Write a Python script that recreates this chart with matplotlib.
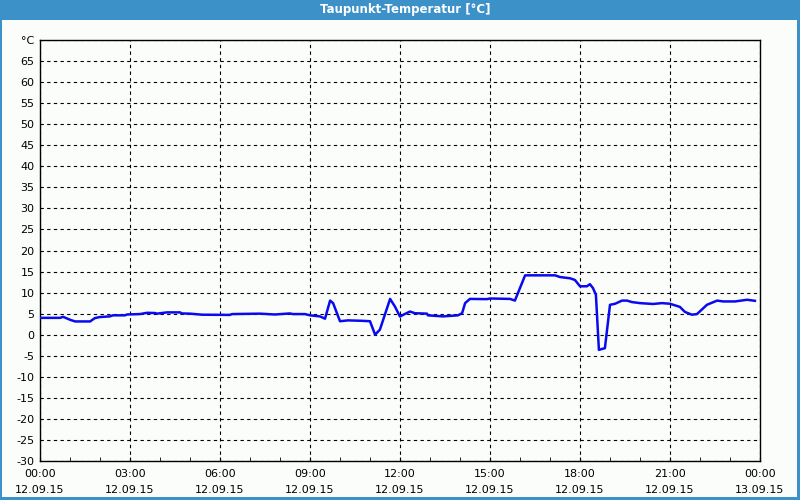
import matplotlib.pyplot as plt
import matplotlib.patches as mpatches
import numpy as np

# hours since 12.09.15 00:00, dew point in °C
hours = [0.0, 0.67, 0.77, 1.0, 1.17, 1.67, 1.83, 2.0, 2.33, 2.43, 2.83, 2.9,
         3.33, 3.57, 3.83, 3.9, 4.23, 4.67, 4.73, 5.0, 5.4, 6.33, 6.4, 7.33,
         7.83, 8.33, 8.43, 8.83, 9.0, 9.33, 9.5, 9.67, 9.77, 10.0, 10.27,
         10.73, 11.0, 11.17, 11.33, 11.67, 11.83, 12.0, 12.1, 12.33, 12.5,
         12.9, 12.93, 13.43, 13.93, 14.07, 14.17, 14.33, 14.9, 15.0, 15.67,
         15.83, 16.17, 17.17, 17.33, 17.67, 17.83, 18.0, 18.23, 18.33, 18.43,
         18.53, 18.63, 18.83, 19.0, 19.17, 19.4, 19.57, 19.73, 20.0, 20.43,
         20.73, 21.0, 21.33, 21.5, 21.73, 21.9, 22.23, 22.57, 22.77, 23.17,
         23.57, 23.83]
dewpoint = [4.0, 4.0, 4.25, 3.55, 3.15, 3.15, 3.95, 4.2, 4.35, 4.6, 4.6, 4.8,
            4.9, 5.2, 5.15, 5.0, 5.3, 5.3, 5.05, 5.0, 4.75, 4.7, 4.9, 5.0,
            4.8, 5.05, 4.9, 4.9, 4.6, 4.35, 3.8, 8.1, 7.5, 3.2, 3.4,
            3.3, 3.2, 0.0, 1.2, 8.5, 6.7, 4.3, 4.7, 5.5, 5.1,
            5.0, 4.6, 4.35, 4.6, 5.1, 7.5, 8.5, 8.45, 8.6, 8.5,
            8.1, 14.1, 14.1, 13.7, 13.4, 13.0, 11.5, 11.5, 12.0, 11.1,
            9.5, -3.6, -3.2, 7.1, 7.35, 8.1, 8.1, 7.75, 7.5, 7.3,
            7.5, 7.35, 6.6, 5.4, 4.75, 4.9, 7.1, 8.1, 7.9, 7.9,
            8.3, 8.05]

x_ticks = [0, 3, 6, 9, 12, 15, 18, 21, 24]
x_labels = ["00:00\n12.09.15", "03:00\n12.09.15", "06:00\n12.09.15",
            "09:00\n12.09.15", "12:00\n12.09.15", "15:00\n12.09.15",
            "18:00\n12.09.15", "21:00\n12.09.15", "00:00\n13.09.15"]
y_ticks = list(range(-30, 75, 5))
y_labels = [str(v) for v in y_ticks[:-1]] + ["°C"]

plt.rcParams["font.family"] = ["DejaVu Sans"]

fig = plt.figure(figsize=(8, 5), dpi=100, facecolor="#3d91c9")
bg = mpatches.Rectangle((2 / 800, 3 / 500), 795 / 800, 477 / 500,
                        transform=fig.transFigure, facecolor="#fbfdfb",
                        edgecolor="none", zorder=-10)
fig.patches.append(bg)
fig.text(0.506, 0.980, "Taupunkt-Temperatur [°C]", color="white",
         fontsize=8.5, fontweight="bold", ha="center", va="center")

ax = fig.add_axes([0.05, 0.078, 0.90, 0.842])
ax.set_zorder(5)
ax.set_facecolor("#fbfdfb")
ax.plot(hours, dewpoint, color="#0a0af0", linewidth=1.8, zorder=3,
        solid_joinstyle="round")

ax.set_xlim(0, 24)
ax.set_ylim(-30, 70)
ax.set_xticks(x_ticks)
ax.set_xticklabels(x_labels, fontsize=8, linespacing=1.7)
ax.set_xticks(np.arange(0, 25, 1), minor=True)
ax.set_yticks(y_ticks)
ax.set_yticklabels(y_labels, fontsize=8)

ax.tick_params(axis="y", length=0, pad=4)
ax.tick_params(axis="x", which="major", direction="in", length=3, pad=6)
ax.tick_params(axis="x", which="minor", direction="in", length=3)

ax.grid(True, which="major", color="black", linewidth=0.8,
        linestyle=(0, (3, 3)))
for sp in ax.spines.values():
    sp.set_color("black")
    sp.set_linewidth(1.0)

fig.savefig("out.png", dpi=100, facecolor=fig.get_facecolor())
